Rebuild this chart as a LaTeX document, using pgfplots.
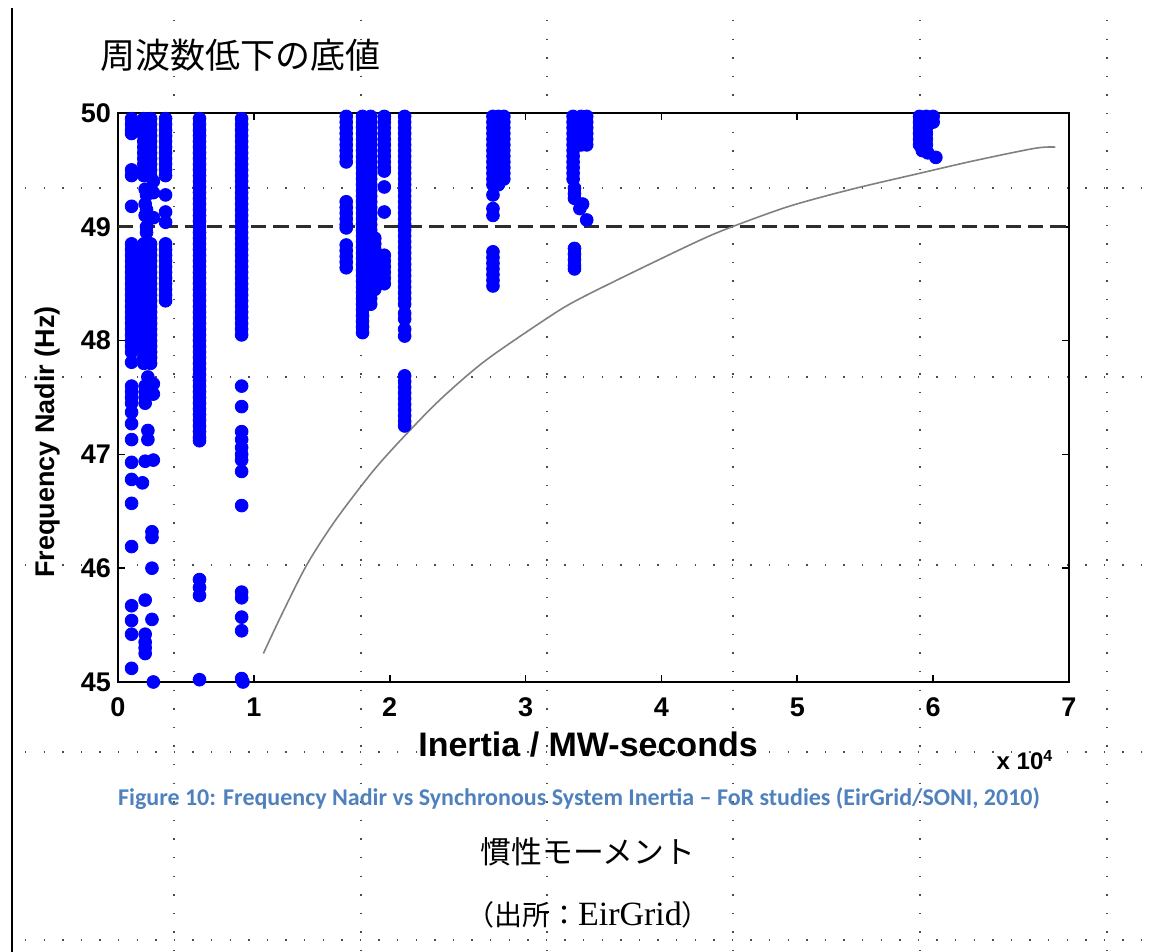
\documentclass[border=0pt]{standalone}
\usepackage{pgfplots}
\pgfplotsset{compat=1.18}
\usepackage{fontspec}
\setmainfont{Liberation Sans}
\newfontfamily\cjk{Noto Sans CJK JP}
\newfontfamily\serif{Liberation Serif}
\newfontfamily\calibri{Carlito}
\definecolor{capblue}{RGB}{79,129,189}
\definecolor{ptblue}{RGB}{0,0,255}
\definecolor{dashgray}{RGB}{45,45,45}
\begin{document}
\begin{tikzpicture}[x=1pt,y=1pt]
\useasboundingbox (0,0) rectangle (576,476);
% page grid of the source document
\foreach \gx in {87,180.5,273.5,366.5,460,553.5}
  \draw[black!70, line width=0.7pt, dash pattern=on 0.7pt off 8.6pt] (\gx,466) -- (\gx,0);
\foreach \gy in {382,287.5,193.5,100,6}
  \draw[black!70, line width=0.7pt, dash pattern=on 0.7pt off 8.6pt] (12.5,\gy) -- (576,\gy);
\draw[line width=1pt] (6,472) -- (6,0);

\begin{axis}[
  at={(59pt,135pt)}, anchor=south west,
  scale only axis, width=475.5pt, height=284.5pt,
  xmin=0, xmax=7, ymin=45, ymax=50,
  xtick={0,1,2,3,4,5,6,7}, ytick={45,46,47,48,49,50},
  tick align=inside, tick pos=both,
  major tick length=3.5pt,
  axis line style={line width=1.1pt},
  tick style={black, line width=0.8pt},
  ticklabel style={font=\bfseries\fontsize{13.5}{13.5}\selectfont},
  xticklabel style={yshift=-4.5pt},
  /pgf/number format/assume math mode=true,
  clip=false,
]
% threshold
\addplot[dashgray, line width=1.5pt, dash pattern=on 7.6pt off 3.5pt] coordinates {(0,49) (7,49)};
% fitted curve
\addplot[gray, line width=0.8pt, smooth] coordinates {
(1.07,45.25) (1.2,45.58) (1.39,46.03) (1.6,46.42) (1.875,46.85) (2.1,47.15) (2.37,47.48) (2.7,47.82) (3.15,48.19) (3.37,48.35) (3.79,48.6) (4.28,48.88) (4.52,49.0) (4.94,49.18) (5.4,49.33) (5.9,49.47) (6.3,49.58) (6.75,49.69) (6.9,49.70)};
% scatter
\addplot[only marks, mark=*, mark size=3.2pt, mark options={draw=ptblue, fill=ptblue}] coordinates {
% column A
(0.10,49.95)(0.10,49.9)(0.10,49.85)(0.10,49.82)(0.10,49.5)(0.10,49.45)(0.10,49.18)
(0.10,48.85)(0.10,48.8)(0.10,48.75)(0.10,48.7)(0.10,48.65)(0.10,48.6)(0.10,48.55)(0.10,48.5)(0.10,48.45)(0.10,48.4)(0.10,48.35)(0.10,48.3)(0.10,48.25)(0.10,48.2)(0.10,48.15)(0.10,48.1)(0.10,48.05)(0.10,48.0)(0.10,47.95)
(0.10,47.9)(0.10,47.81)(0.10,47.6)(0.10,47.55)(0.10,47.5)(0.10,47.45)(0.10,47.37)(0.10,47.27)(0.10,47.13)(0.10,46.93)(0.10,46.78)(0.10,46.57)(0.10,46.19)(0.10,45.67)(0.10,45.54)(0.10,45.42)(0.10,45.12)
% column B
(0.19,49.95)(0.19,49.9)(0.19,49.85)(0.19,49.8)(0.19,49.75)(0.19,49.7)(0.19,49.65)(0.19,49.6)(0.19,49.55)(0.19,49.5)(0.19,49.45)
(0.24,49.95)(0.24,49.9)(0.24,49.85)(0.24,49.8)(0.24,49.75)(0.24,49.7)(0.24,49.65)(0.24,49.6)(0.24,49.55)(0.24,49.5)(0.24,49.45)
(0.19,48.85)(0.19,48.8)(0.19,48.75)(0.19,48.7)(0.19,48.65)(0.19,48.6)(0.19,48.55)(0.19,48.5)(0.19,48.45)(0.19,48.4)(0.19,48.35)(0.19,48.3)(0.19,48.25)(0.19,48.2)(0.19,48.15)(0.19,48.1)(0.19,48.05)(0.19,48.0)(0.19,47.95)(0.19,47.9)(0.19,47.85)(0.19,47.8)
(0.24,48.85)(0.24,48.8)(0.24,48.75)(0.24,48.7)(0.24,48.65)(0.24,48.6)(0.24,48.55)(0.24,48.5)(0.24,48.45)(0.24,48.4)(0.24,48.35)(0.24,48.3)(0.24,48.25)(0.24,48.2)(0.24,48.15)(0.24,48.1)(0.24,48.05)(0.24,48.0)(0.24,47.95)(0.24,47.9)(0.24,47.85)(0.24,47.8)
(0.20,49.33)(0.21,49.28)(0.20,49.2)(0.21,49.15)(0.20,49.1)(0.26,49.3)(0.26,49.08)(0.21,49.0)(0.21,48.95)(0.26,49.4)
(0.22,47.68)(0.20,47.6)(0.20,47.55)(0.20,47.5)(0.20,47.45)(0.26,47.62)(0.26,47.53)(0.22,47.21)(0.22,47.13)(0.20,46.94)(0.26,46.95)(0.18,46.75)
(0.25,46.32)(0.25,46.27)(0.25,46.0)(0.20,45.72)(0.25,45.55)(0.20,45.42)(0.20,45.35)(0.20,45.3)(0.20,45.25)(0.26,45.0)
% column C
(0.35,49.95)(0.35,49.9)(0.35,49.85)(0.35,49.8)(0.35,49.75)(0.35,49.7)(0.35,49.65)(0.35,49.6)(0.35,49.55)(0.35,49.5)(0.35,49.45)
(0.35,49.28)(0.35,49.13)(0.35,49.04)
(0.35,48.85)(0.35,48.8)(0.35,48.75)(0.35,48.7)(0.35,48.65)(0.35,48.6)(0.35,48.55)(0.35,48.5)(0.35,48.45)(0.35,48.4)(0.35,48.35)
% column D
(0.6,49.95)(0.6,49.9)(0.6,49.85)(0.6,49.8)(0.6,49.75)(0.6,49.7)(0.6,49.65)(0.6,49.6)(0.6,49.55)(0.6,49.5)(0.6,49.45)(0.6,49.4)(0.6,49.35)(0.6,49.3)(0.6,49.25)(0.6,49.2)(0.6,49.15)(0.6,49.1)(0.6,49.05)(0.6,49.0)
(0.6,48.95)(0.6,48.9)(0.6,48.85)(0.6,48.8)(0.6,48.75)(0.6,48.7)(0.6,48.65)(0.6,48.6)(0.6,48.55)(0.6,48.5)(0.6,48.45)(0.6,48.4)(0.6,48.35)(0.6,48.3)(0.6,48.25)(0.6,48.2)(0.6,48.15)(0.6,48.1)(0.6,48.05)(0.6,48.0)
(0.6,47.95)(0.6,47.9)(0.6,47.85)(0.6,47.8)(0.6,47.75)(0.6,47.7)(0.6,47.65)(0.6,47.6)(0.6,47.55)(0.6,47.5)(0.6,47.45)(0.6,47.4)(0.6,47.35)(0.6,47.3)(0.6,47.25)(0.6,47.2)(0.6,47.15)(0.6,47.12)
(0.6,45.9)(0.6,45.83)(0.6,45.76)(0.6,45.02)
% column E
(0.91,49.95)(0.91,49.9)(0.91,49.85)(0.91,49.8)(0.91,49.75)(0.91,49.7)(0.91,49.65)(0.91,49.6)(0.91,49.55)(0.91,49.5)(0.91,49.45)(0.91,49.4)(0.91,49.35)(0.91,49.3)(0.91,49.25)(0.91,49.2)(0.91,49.15)(0.91,49.1)(0.91,49.05)(0.91,49.0)
(0.91,48.95)(0.91,48.9)(0.91,48.85)(0.91,48.8)(0.91,48.75)(0.91,48.7)(0.91,48.65)(0.91,48.6)(0.91,48.55)(0.91,48.5)(0.91,48.45)(0.91,48.4)(0.91,48.35)(0.91,48.3)(0.91,48.25)(0.91,48.2)(0.91,48.15)(0.91,48.1)(0.91,48.05)
(0.91,47.6)(0.91,47.42)(0.91,47.2)(0.91,47.13)(0.91,47.06)(0.91,47.0)(0.91,46.95)(0.91,46.85)(0.91,46.55)(0.91,45.79)(0.91,45.74)(0.91,45.57)(0.91,45.45)(0.91,45.03)(0.92,45.0)
% column F
(1.68,49.97)(1.68,49.92)(1.68,49.87)(1.68,49.82)(1.68,49.77)(1.68,49.72)(1.68,49.67)(1.68,49.62)(1.68,49.57)
(1.68,49.22)(1.68,49.17)(1.68,49.12)(1.68,49.07)(1.68,49.02)(1.68,48.99)
(1.68,48.84)(1.68,48.79)(1.68,48.74)(1.68,48.69)(1.68,48.64)
% column G
(1.80,49.97)(1.80,49.92)(1.80,49.87)(1.80,49.82)(1.80,49.77)(1.80,49.72)(1.80,49.67)(1.80,49.62)(1.80,49.57)(1.80,49.52)(1.80,49.47)(1.80,49.42)(1.80,49.37)(1.80,49.32)(1.80,49.27)(1.80,49.22)(1.80,49.17)(1.80,49.12)(1.80,49.07)(1.80,49.02)
(1.80,48.97)(1.80,48.92)(1.80,48.87)(1.80,48.82)(1.80,48.77)(1.80,48.72)(1.80,48.67)(1.80,48.62)(1.80,48.57)(1.80,48.52)(1.80,48.47)(1.80,48.42)(1.80,48.37)(1.80,48.32)(1.80,48.27)(1.80,48.22)(1.80,48.17)(1.80,48.12)(1.80,48.07)
(1.86,49.97)(1.86,49.92)(1.86,49.87)(1.86,49.82)(1.86,49.77)(1.86,49.72)(1.86,49.67)(1.86,49.62)(1.86,49.57)(1.86,49.52)(1.86,49.47)(1.86,49.42)(1.86,49.37)(1.86,49.32)(1.86,49.27)(1.86,49.22)(1.86,49.17)(1.86,49.12)(1.86,49.07)(1.86,49.02)
(1.86,48.97)(1.86,48.92)(1.86,48.87)(1.86,48.82)(1.86,48.77)(1.86,48.72)(1.86,48.67)(1.86,48.62)(1.86,48.57)(1.86,48.52)(1.86,48.47)(1.86,48.42)(1.86,48.37)(1.86,48.32)
(1.89,48.9)(1.89,48.85)(1.89,48.8)(1.89,48.75)(1.89,48.7)(1.89,48.65)(1.89,48.6)(1.89,48.55)(1.89,48.5)(1.89,48.45)
% column H
(1.96,49.97)(1.96,49.92)(1.96,49.87)(1.96,49.82)(1.96,49.77)(1.96,49.72)(1.96,49.67)(1.96,49.62)(1.96,49.57)(1.96,49.52)(1.96,49.49)
(1.96,49.35)(1.96,49.13)
(1.96,48.75)(1.96,48.7)(1.96,48.65)(1.96,48.6)(1.96,48.55)(1.96,48.5)
% column I
(2.11,49.97)(2.11,49.92)(2.11,49.87)(2.11,49.82)(2.11,49.77)(2.11,49.72)(2.11,49.67)(2.11,49.62)(2.11,49.57)(2.11,49.52)(2.11,49.47)(2.11,49.42)(2.11,49.37)(2.11,49.32)(2.11,49.27)(2.11,49.22)(2.11,49.17)
(2.11,49.12)(2.11,49.07)(2.11,49.02)(2.11,48.97)(2.11,48.92)(2.11,48.87)(2.11,48.82)(2.11,48.77)(2.11,48.72)(2.11,48.67)(2.11,48.62)(2.11,48.57)(2.11,48.52)(2.11,48.47)(2.11,48.42)(2.11,48.37)(2.11,48.32)
(2.11,48.24)(2.11,48.19)(2.11,48.1)(2.11,48.04)
(2.11,47.69)(2.11,47.64)(2.11,47.59)(2.11,47.54)(2.11,47.49)(2.11,47.44)(2.11,47.39)(2.11,47.34)(2.11,47.29)(2.11,47.25)
% column J
(2.76,49.97)(2.76,49.92)(2.76,49.87)(2.76,49.82)(2.76,49.77)(2.76,49.72)(2.76,49.67)(2.76,49.62)(2.76,49.57)(2.76,49.52)(2.76,49.47)(2.76,49.42)(2.76,49.37)
(2.80,49.97)(2.80,49.92)(2.80,49.87)(2.80,49.82)(2.80,49.77)(2.80,49.72)(2.80,49.67)(2.80,49.62)(2.80,49.57)(2.80,49.52)(2.80,49.47)(2.80,49.42)(2.80,49.37)
(2.84,49.97)(2.84,49.92)(2.84,49.87)(2.84,49.82)(2.84,49.77)(2.84,49.72)(2.84,49.67)(2.84,49.62)(2.84,49.57)(2.84,49.52)(2.84,49.47)(2.84,49.42)
(2.76,49.28)(2.76,49.16)(2.76,49.1)
(2.76,48.78)(2.76,48.73)(2.76,48.68)(2.76,48.63)(2.76,48.58)(2.76,48.53)(2.76,48.48)
% column K
(3.35,49.97)(3.35,49.92)(3.35,49.87)(3.35,49.82)(3.35,49.77)(3.35,49.72)(3.35,49.67)(3.35,49.62)(3.35,49.57)(3.35,49.52)(3.35,49.47)(3.35,49.42)
(3.41,49.97)(3.41,49.92)(3.41,49.87)(3.41,49.82)(3.41,49.77)(3.41,49.72)
(3.45,49.97)(3.45,49.92)(3.45,49.87)(3.45,49.82)(3.45,49.77)(3.45,49.72)
(3.36,49.34)(3.36,49.29)(3.36,49.25)(3.42,49.2)(3.40,49.16)(3.45,49.06)
(3.36,48.81)(3.36,48.76)(3.36,48.71)(3.36,48.66)(3.36,48.63)
% column L
(5.90,49.97)(5.90,49.92)(5.90,49.87)(5.90,49.82)(5.90,49.77)(5.90,49.72)
(5.95,49.97)(5.95,49.92)(5.95,49.87)(5.95,49.82)(5.95,49.77)(5.95,49.72)
(6.00,49.97)(6.00,49.92)(5.92,49.67)(5.96,49.65)(6.02,49.61)
};
\end{axis}

% texts
\node[font=\cjk\fontsize{17.5}{18}\selectfont] at (120,448.5) {周波数低下の底値};
\node[font=\bfseries\fontsize{13.5}{13.5}\selectfont, rotate=90] at (24,255) {Frequency Nadir (Hz)};
\node[font=\bfseries\fontsize{17}{17}\selectfont] at (294,103.5) {Inertia / MW-seconds};
\node[font=\bfseries\fontsize{12}{12}\selectfont] at (512.5,96) {x 10\textsuperscript{4}};
\node[font=\calibri\bfseries\fontsize{12}{12}\selectfont, text=capblue] at (289.5,76.5) {Figure 10: Frequency Nadir vs Synchronous System Inertia – FoR studies (EirGrid/SONI, 2010)};
\node[font=\cjk\fontsize{15.4}{16}\selectfont] at (294,50) {慣性モーメント};
\node[font=\fontsize{14}{15}\selectfont] at (294,18.5) {{\cjk （出所：}{\serif\fontsize{17}{17}\selectfont EirGrid}{\cjk ）}};
\end{tikzpicture}
\end{document}
